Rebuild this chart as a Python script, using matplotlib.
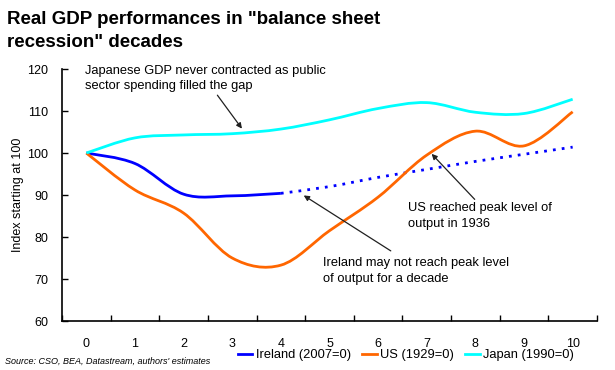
import numpy as np
import matplotlib
matplotlib.use("Agg")
import matplotlib.pyplot as plt
from matplotlib.path import Path
from matplotlib.patches import PathPatch
from matplotlib.lines import Line2D

plt.rcParams['font.family'] = ['Liberation Sans', 'DejaVu Sans']

# Years since start of the balance sheet recession
years = list(range(11))
ireland = [100, 97.5, 90.2, 89.8, 90.4]
ireland_proj = [90.4, 92.0, 94.2, 96.1, 98.0, 99.7, 101.4]
us = [100, 91.2, 85.7, 75.0, 73.3, 81.5, 89.5, 99.5, 105.2, 101.7, 109.8]
japan = [100, 103.6, 104.3, 104.6, 105.7, 107.9, 110.6, 112.0, 109.7, 109.4, 112.8]

legend_labels = ["Ireland (2007=0)", "US (1929=0)", "Japan (1990=0)"]
colors = ["#0000FF", "#FF6600", "#00FFFF"]


def smooth_path(xs, ys):
    # Excel style smoothed line: Catmull-Rom segments as cubic Beziers
    pts = np.column_stack([xs, ys]).astype(float)
    n = len(pts)
    verts = [pts[0]]
    codes = [Path.MOVETO]
    for i in range(n - 1):
        p0 = pts[i - 1] if i > 0 else pts[i]
        p1, p2 = pts[i], pts[i + 1]
        p3 = pts[i + 2] if i + 2 < n else pts[i + 1]
        c1 = p1 + (p2 - p0) / 6.0
        c2 = p2 - (p3 - p1) / 6.0
        verts += [c1, c2, p2]
        codes += [Path.CURVE4] * 3
    return Path(verts, codes)


fig = plt.figure(figsize=(6.15, 3.7), dpi=100)
ax = fig.add_axes([0.1008, 0.1324, 0.8699, 0.6811])

series = [
    (years[:len(ireland)], ireland, colors[0], "-"),
    (years[len(ireland) - 1:], ireland_proj, colors[0], (0, (1.0, 2.2))),
    (years, us, colors[1], "-"),
    (years, japan, colors[2], "-"),
]
for xs, ys, c, ls in series:
    patch = PathPatch(smooth_path(xs, ys), facecolor="none", edgecolor=c,
                      lw=2.0, linestyle=ls, capstyle="butt")
    ax.add_patch(patch)

ax.set_xlim(-0.5, 10.5)
ax.set_ylim(60, 120)
ax.set_yticks(range(60, 121, 10))
ax.set_xticks(years)
ax.set_xticks(np.arange(-0.5, 10.6, 1), minor=True)
ax.tick_params(axis="x", which="major", length=0, pad=12, labelsize=9)
ax.tick_params(axis="x", which="minor", direction="in", length=4, width=1)
ax.tick_params(axis="y", direction="in", length=4, width=1, pad=10, labelsize=9)
for s in ["top", "right"]:
    ax.spines[s].set_visible(False)
for s in ["left", "bottom"]:
    ax.spines[s].set_linewidth(1.2)
ax.set_ylabel("Index starting at 100", fontsize=9, labelpad=2)

# Annotations
arrow = dict(arrowstyle="-|>", color="#202020", lw=0.9, mutation_scale=8,
             shrinkA=0, shrinkB=0)
txt = dict(fontsize=9.3, ha="left", va="top", linespacing=1.4)
ax.annotate("Japanese GDP never contracted as public\nsector spending filled the gap",
            xy=(3.2, 105.8), xytext=(-0.02, 121.0), **txt,
            arrowprops=dict(arrow, relpos=(0.54, 0.0)))
ax.annotate("US reached peak level of\noutput in 1936",
            xy=(7.1, 99.8), xytext=(6.62, 88.3), **txt,
            arrowprops=dict(arrow, relpos=(0.48, 1.0)))
ax.annotate("Ireland may not reach peak level\nof output for a decade",
            xy=(4.47, 89.9), xytext=(4.86, 75.2), **txt)
ax.annotate("", xy=(4.47, 89.9), xytext=(6.26, 76.7), arrowprops=arrow)

fig.text(0.012, 0.97, 'Real GDP performances in "balance sheet\nrecession" decades',
         fontsize=13.5, fontweight="bold", ha="left", va="top", linespacing=1.45)
fig.text(0.008, 0.012, "Source: CSO, BEA, Datastream, authors' estimates",
         fontsize=6.5, style="italic", ha="left", va="bottom")

handles = [Line2D([], [], color=c, lw=2) for c in colors]
fig.legend(handles, legend_labels, ncol=3, frameon=False, fontsize=9.3,
           loc="center", bbox_to_anchor=(0.66, 0.04), handlelength=1.1,
           handletextpad=0.25, columnspacing=0.9, borderaxespad=0)

fig.savefig("out.png", dpi=100)
